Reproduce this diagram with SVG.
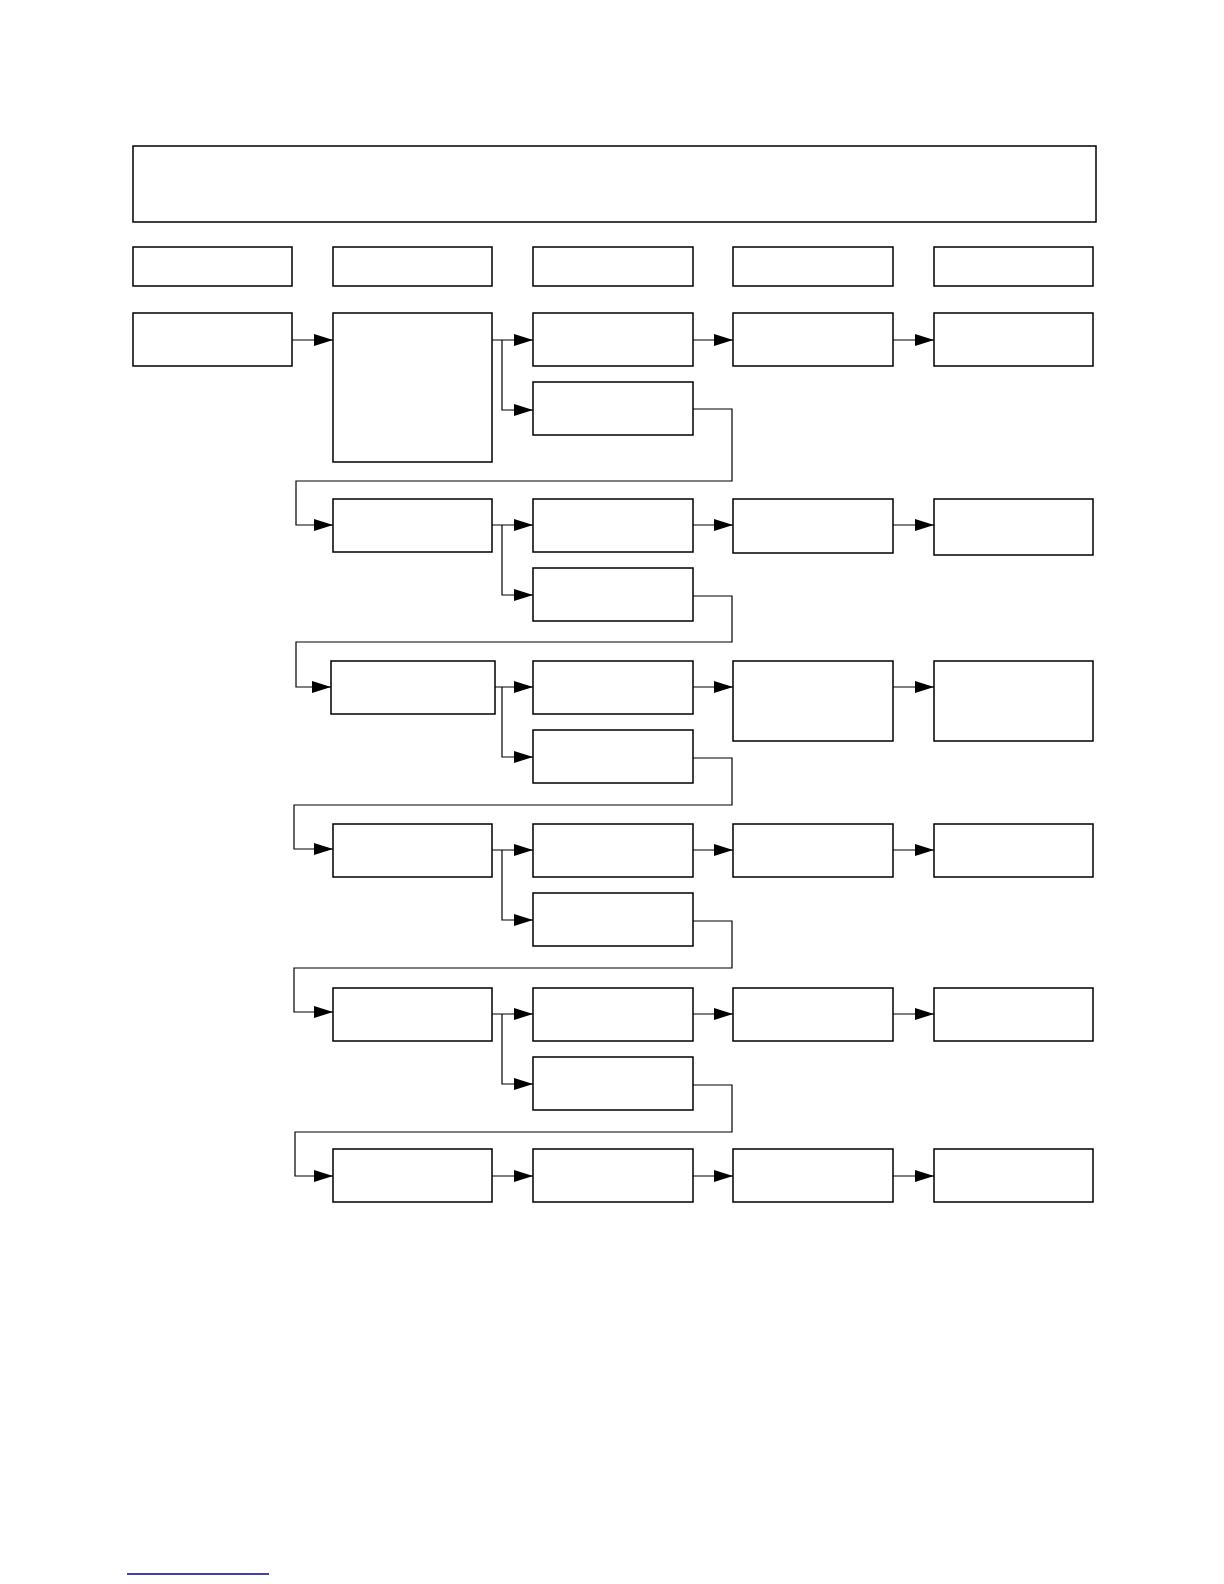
<svg xmlns="http://www.w3.org/2000/svg" width="1224" height="1584" viewBox="0 0 1224 1584">
<style>
.n{fill:#fff;stroke:#000;stroke-width:1.5}
.c{fill:none;stroke:#000;stroke-width:1.2}
.a{marker-end:url(#ah)}
</style>
<defs>
<marker id="ah" markerUnits="userSpaceOnUse" markerWidth="19" markerHeight="12" refX="19" refY="6" orient="auto">
<path d="M0,0 L19,6 L0,12 z" fill="#000"/>
</marker>
</defs>
<rect width="1224" height="1584" fill="#fff"/>
<g id="connectors">
<path class="c a" d="M292,340 H333"/>
<path class="c a" d="M492,340 H533"/>
<path class="c a" d="M502,340 V410 H533"/>
<path class="c a" d="M693,340 H733"/>
<path class="c a" d="M893,340 H934"/>
<path class="c a" d="M693,409 H732 V481 H296 V525 H333"/>
<path class="c a" d="M492,525 H533"/>
<path class="c a" d="M502,525 V595 H533"/>
<path class="c a" d="M693,525 H733"/>
<path class="c a" d="M893,525 H934"/>
<path class="c a" d="M693,596 H732 V642 H296 V687 H331"/>
<path class="c a" d="M495,687 H533"/>
<path class="c a" d="M502,687 V757 H533"/>
<path class="c a" d="M693,687 H733"/>
<path class="c a" d="M893,687 H934"/>
<path class="c a" d="M693,758 H732 V805 H294 V849 H333"/>
<path class="c a" d="M492,850 H533"/>
<path class="c a" d="M502,850 V920 H533"/>
<path class="c a" d="M693,850 H733"/>
<path class="c a" d="M893,850 H934"/>
<path class="c a" d="M693,921 H732 V968 H294 V1012 H333"/>
<path class="c a" d="M492,1014 H533"/>
<path class="c a" d="M502,1014 V1084 H533"/>
<path class="c a" d="M693,1014 H733"/>
<path class="c a" d="M893,1014 H934"/>
<path class="c a" d="M693,1085 H732 V1132 H295 V1176 H333"/>
<path class="c a" d="M492,1176 H533"/>
<path class="c a" d="M693,1176 H733"/>
<path class="c a" d="M893,1176 H934"/>
</g>
<g id="title"><rect class="n" x="133" y="146" width="963" height="76"/></g>
<g id="h1"><rect class="n" x="133" y="247" width="159" height="39"/></g>
<g id="h2"><rect class="n" x="333" y="247" width="159" height="39"/></g>
<g id="h3"><rect class="n" x="533" y="247" width="160" height="39"/></g>
<g id="h4"><rect class="n" x="733" y="247" width="160" height="39"/></g>
<g id="h5"><rect class="n" x="934" y="247" width="159" height="39"/></g>
<g id="r1c1"><rect class="n" x="133" y="313" width="159" height="53"/></g>
<g id="r1c2"><rect class="n" x="333" y="313" width="159" height="149"/></g>
<g id="r1c3"><rect class="n" x="533" y="313" width="160" height="53"/></g>
<g id="r1c4"><rect class="n" x="733" y="313" width="160" height="53"/></g>
<g id="r1c5"><rect class="n" x="934" y="313" width="159" height="53"/></g>
<g id="r1b"><rect class="n" x="533" y="382" width="160" height="53"/></g>
<g id="r2c2"><rect class="n" x="333" y="499" width="159" height="53"/></g>
<g id="r2c3"><rect class="n" x="533" y="499" width="160" height="53"/></g>
<g id="r2c4"><rect class="n" x="733" y="499" width="160" height="54"/></g>
<g id="r2c5"><rect class="n" x="934" y="499" width="159" height="56"/></g>
<g id="r2b"><rect class="n" x="533" y="568" width="160" height="53"/></g>
<g id="r3c2"><rect class="n" x="331" y="661" width="164" height="53"/></g>
<g id="r3c3"><rect class="n" x="533" y="661" width="160" height="53"/></g>
<g id="r3c4"><rect class="n" x="733" y="661" width="160" height="80"/></g>
<g id="r3c5"><rect class="n" x="934" y="661" width="159" height="80"/></g>
<g id="r3b"><rect class="n" x="533" y="730" width="160" height="53"/></g>
<g id="r4c2"><rect class="n" x="333" y="824" width="159" height="53"/></g>
<g id="r4c3"><rect class="n" x="533" y="824" width="160" height="53"/></g>
<g id="r4c4"><rect class="n" x="733" y="824" width="160" height="53"/></g>
<g id="r4c5"><rect class="n" x="934" y="824" width="159" height="53"/></g>
<g id="r4b"><rect class="n" x="533" y="893" width="160" height="53"/></g>
<g id="r5c2"><rect class="n" x="333" y="988" width="159" height="53"/></g>
<g id="r5c3"><rect class="n" x="533" y="988" width="160" height="53"/></g>
<g id="r5c4"><rect class="n" x="733" y="988" width="160" height="53"/></g>
<g id="r5c5"><rect class="n" x="934" y="988" width="159" height="53"/></g>
<g id="r5b"><rect class="n" x="533" y="1057" width="160" height="53"/></g>
<g id="r6c2"><rect class="n" x="333" y="1149" width="159" height="53"/></g>
<g id="r6c3"><rect class="n" x="533" y="1149" width="160" height="53"/></g>
<g id="r6c4"><rect class="n" x="733" y="1149" width="160" height="53"/></g>
<g id="r6c5"><rect class="n" x="934" y="1149" width="159" height="53"/></g>
<line x1="127" y1="1574" x2="269" y2="1574" stroke="#000099" stroke-width="1.6"/>
</svg>
